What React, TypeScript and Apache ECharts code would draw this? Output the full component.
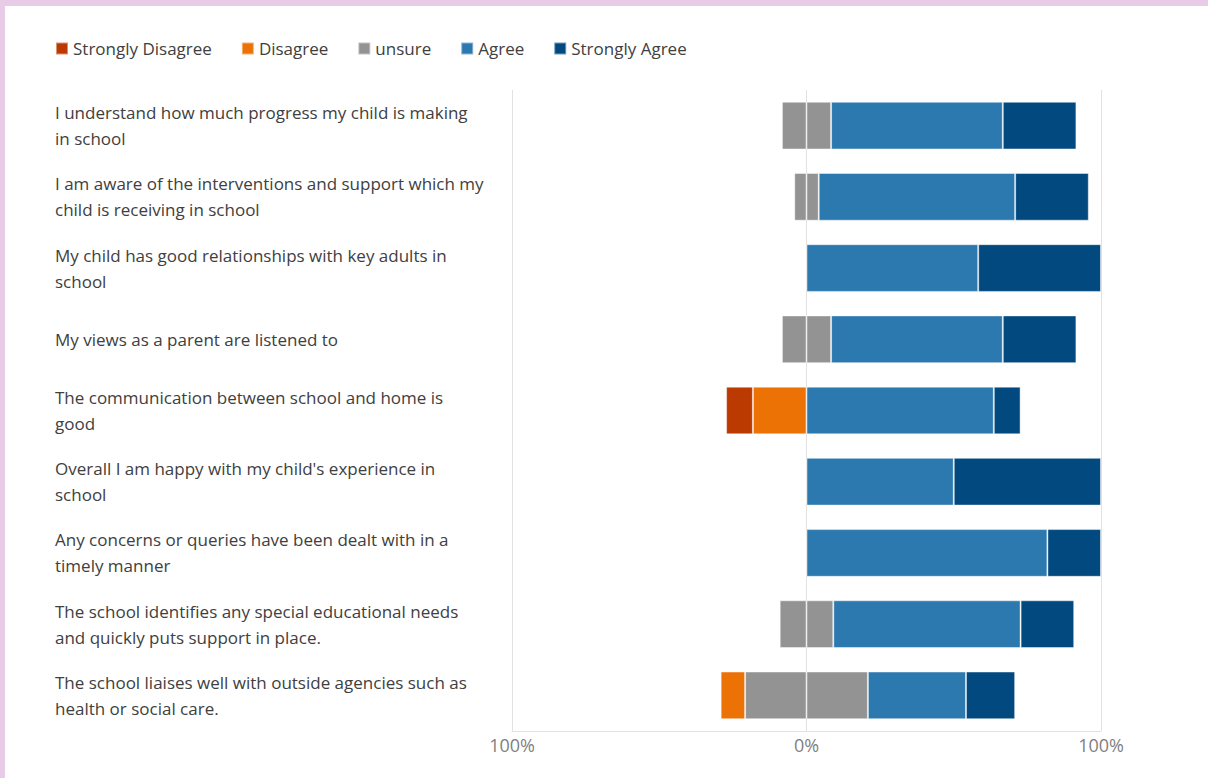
import React, { useEffect, useRef } from "react";
import * as echarts from "echarts";

const categories = [
  "I understand how much progress my child is making\nin school",
  "I am aware of the interventions and support which my\nchild is receiving in school",
  "My child has good relationships with key adults in\nschool",
  "My views as a parent are listened to",
  "The communication between school and home is\ngood",
  "Overall I am happy with my child's experience in\nschool",
  "Any concerns or queries have been dealt with in a\ntimely manner",
  "The school identifies any special educational needs\nand quickly puts support in place.",
  "The school liaises well with outside agencies such as\nhealth or social care.",
];

const stronglyDisagree = [0, 0, 0, 0, 9.1, 0, 0, 0, 0];
const disagree = [0, 0, 0, 0, 18.2, 0, 0, 0, 8.3];
const unsure = [16.7, 8.3, 0, 16.7, 0, 0, 0, 18.2, 41.7];
const agree = [58.3, 66.7, 58.3, 58.3, 63.6, 50, 81.8, 63.6, 33.3];
const stronglyAgree = [25, 25, 41.7, 25, 9.1, 50, 18.2, 18.2, 16.7];

const xTicks = [-100, 0, 100];

const COLORS = {
  sd: "#BA3A02",
  d: "#EC7206",
  u: "#939393",
  a: "#2C79AF",
  sa: "#02497F",
};

const FONT = "'Open Sans', 'Noto Sans', sans-serif";

function clean(arr: number[]) {
  return arr.map((v) => (v === 0 ? "-" : v));
}

export default function App() {
  const ref = useRef<HTMLDivElement>(null);
  useEffect(() => {
    if (!ref.current) return;
    const chart = echarts.init(ref.current, null, { renderer: "svg" });
    const itemStyle = (c: string) => ({
      color: c,
      borderColor: "rgba(255,255,255,0.45)",
      borderWidth: 1,
    });
    const base = {
      type: "bar" as const,
      stack: "total",
      barCategoryGap: "33%",
    };
    chart.setOption({
      animation: false,
      backgroundColor: "#ffffff",
      textStyle: { fontFamily: FONT },
      graphic: [
        { type: "rect", shape: { x: 0, y: 0, width: 1208, height: 6 }, style: { fill: "#E8CBE6" }, silent: true },
        { type: "rect", shape: { x: 0, y: 0, width: 5, height: 778 }, style: { fill: "#E8CBE6" }, silent: true },
      ],
      legend: {
        left: 55,
        top: 40,
        padding: 0,
        icon: "rect",
        itemWidth: 12,
        itemHeight: 12,
        itemGap: 29,
        textStyle: { color: "#404040", fontSize: 17, fontFamily: FONT },
        data: ["Strongly Disagree", "Disagree", "unsure", "Agree", "Strongly Agree"],
      },
      grid: { left: 512, right: 107, top: 90, bottom: 47, containLabel: false },
      xAxis: {
        type: "value",
        min: xTicks[0],
        max: xTicks[xTicks.length - 1],
        interval: 100,
        axisLine: { show: true, lineStyle: { color: "#E2E2E2" } },
        axisTick: { show: false },
        splitLine: { show: true, lineStyle: { color: "#E2E2E2" } },
        axisLabel: {
          color: "#7F7F7F",
          fontSize: 18,
          fontFamily: FONT,
          margin: 5,
          formatter: (v: number) => Math.abs(v) + "%",
        },
      },
      yAxis: {
        type: "category",
        inverse: true,
        data: categories,
        axisLine: { show: false },
        axisTick: { show: false },
        axisLabel: {
          align: "left",
          margin: 457,
          color: "#404040",
          fontSize: 17,
          lineHeight: 26,
          fontFamily: FONT,
        },
      },
      series: [
        { ...base, name: "unsure", data: clean(unsure.map((v) => -v / 2)), itemStyle: itemStyle(COLORS.u) },
        { ...base, name: "unsure", data: clean(unsure.map((v) => v / 2)), itemStyle: itemStyle(COLORS.u) },
        { ...base, name: "Agree", data: clean(agree), itemStyle: itemStyle(COLORS.a) },
        { ...base, name: "Strongly Agree", data: clean(stronglyAgree), itemStyle: itemStyle(COLORS.sa) },
        { ...base, name: "Disagree", data: clean(disagree.map((v) => -v)), itemStyle: itemStyle(COLORS.d) },
        { ...base, name: "Strongly Disagree", data: clean(stronglyDisagree.map((v) => -v)), itemStyle: itemStyle(COLORS.sd) },
      ],
    });
    return () => chart.dispose();
  }, []);
  return (
    <div
      ref={ref}
      style={{ position: "fixed", left: 0, top: 0, width: 1208, height: 778 }}
    />
  );
}
